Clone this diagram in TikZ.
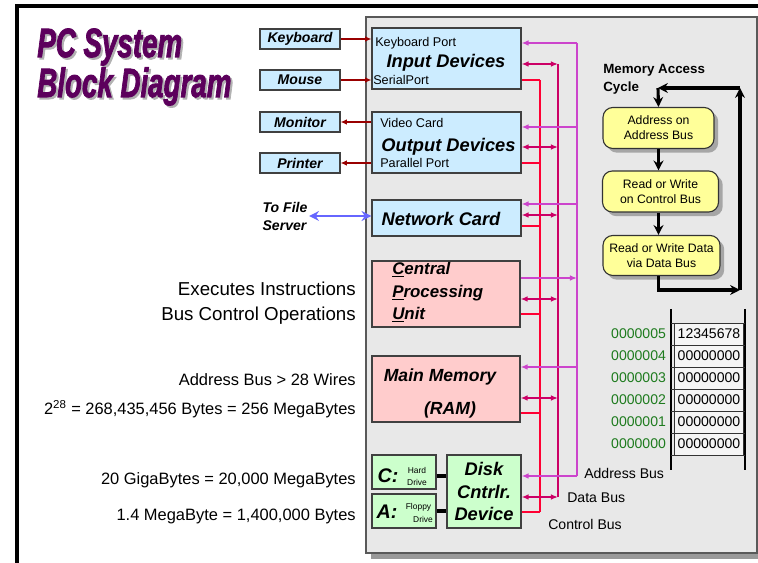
\documentclass[tikz,border=0pt]{standalone}
\usepackage{graphicx}
\usepackage{fontspec}
\setmainfont{Liberation Sans}
\newfontfamily\titlefont[FakeBold=2.5]{Liberation Sans}
\usetikzlibrary{arrows.meta,positioning,shadows}

\definecolor{devblue}{HTML}{CCECFF}
\definecolor{cpupink}{HTML}{FFCCCC}
\definecolor{diskgreen}{HTML}{CCFFCC}
\definecolor{cycyellow}{HTML}{FFFF99}
\definecolor{ctlred}{HTML}{FF0033}
\definecolor{datared}{HTML}{CC0066}
\definecolor{addrpink}{HTML}{CC44CC}
\definecolor{portred}{HTML}{990000}
\definecolor{netblue}{HTML}{6666FF}
\definecolor{titlepurple}{HTML}{5C005C}
\definecolor{addrgreen}{HTML}{1E7B1E}
\definecolor{panelgray}{HTML}{E8E8E8}

\begin{document}
\begin{tikzpicture}[x=0.025cm, y=-0.025cm,
  box/.style 2 args={draw=black!75, line width=0.8pt, inner sep=0pt,
    minimum width=#1*0.025cm, minimum height=#2*0.025cm},
  txt/.style={inner sep=0pt, font=\fontsize{#1}{#1}\selectfont},
  txt/.default=9,
  bi/.style={inner sep=0pt, font=\fontsize{#1}{#1}\selectfont\bfseries\itshape},
  bi/.default=13,
  title/.style={inner sep=0pt, anchor=base west,
    font=\titlefont\fontsize{29}{29}\selectfont\bfseries\itshape},
  devbox/.style={box={80}{20}, fill=devblue, bi=10},
  devlink/.style={portred, line width=1.1pt, -{Latex[length=4.5pt,width=4pt]}},
  ctlbus/.style={ctlred, line width=1.3pt},
  databus/.style={datared, line width=1.3pt},
  addrbus/.style={addrpink, line width=1.3pt},
  tip/.style={-{Latex[length=5pt,width=4pt]}},
  tips/.style={{Latex[length=5pt,width=4pt]}-{Latex[length=5pt,width=4pt]}},
  cycbox/.style={draw=black!80, line width=0.8pt, fill=cycyellow,
    rounded corners=7pt, align=center, inner sep=0pt,
    font=\fontsize{8.7}{10.7}\selectfont,
    drop shadow={shadow xshift=3pt, shadow yshift=-3pt, fill=black!35, opacity=1}},
  cycarrow/.style={line width=2.2pt, -{Stealth[length=7pt,width=7pt]}},
  cell/.style={draw=black!80, fill=black!4, inner sep=0pt,
    minimum width=69*0.025cm, minimum height=22*0.025cm,
    font=\fontsize{10}{10}\selectfont},
  addr/.style={text=addrgreen, inner sep=0pt, font=\fontsize{10}{10}\selectfont},
  drive/.style={inner sep=0pt, font=\fontsize{6}{6}\selectfont},
  note/.style={inner sep=0pt, anchor=east, font=\fontsize{#1}{#1}\selectfont},
  note/.default=11.7]

\useasboundingbox (0,0) rectangle (758,563);

% frame and grey panel
\draw[line width=2.2pt] (17,563) -- (17,6) -- (758,6);
\fill[black!40] (371,22) rectangle (762,559);
\filldraw[fill=panelgray, draw=black!65, line width=0.9pt] (366,17) rectangle (757,553);

% title
\node[title, text=black!30] at (39,59) {\scalebox{0.68}[1]{PC System}};
\node[title, text=titlepurple] at (37,57) {\scalebox{0.68}[1]{PC System}};
\node[title, text=black!30] at (39,99) {\scalebox{0.68}[1]{Block Diagram}};
\node[title, text=titlepurple] at (37,97) {\scalebox{0.68}[1]{Block Diagram}};

% peripherals
\node[devbox] (kbd) at (300,39) {Keyboard};
\node[devbox] (mouse) at (300,80) {Mouse};
\node[devbox] (mon) at (300,122) {Monitor};
\node[devbox] (prn) at (300,163) {Printer};

% units on the bus
\node[box={149}{61}, fill=devblue] (inp) at (446.5,58.5) {};
\node[bi] at (446,63) {Input Devices};
\node[txt, anchor=west] at (375,43) {Keyboard Port};
\node[txt, anchor=west] at (373,80) {SerialPort};

\node[box={149}{61}, fill=devblue] (outp) at (446.5,142.5) {};
\node[bi] at (448.5,147) {Output Devices};
\node[txt, anchor=west] at (380,123) {Video Card};
\node[txt, anchor=west] at (380,163) {Parallel Port};

\node[box={149}{36}, fill=devblue] (net) at (446.5,218) {};
\node[bi] at (441,219) {Network Card};

\node[box={148}{66}, fill=cpupink] (cpu) at (446,294) {};
\node[bi=12, anchor=west] at (392,270) {\underline{C}entral};
\node[bi=12, anchor=west] at (392,293) {\underline{P}rocessing};
\node[bi=12, anchor=west] at (392,315) {\underline{U}nit};

\node[box={148}{66}, fill=cpupink] (ram) at (446,389) {};
\node[bi=12.5] at (440,377) {Main Memory};
\node[bi=12.5] at (450,410) {(RAM)};

\node[box={64}{34}, fill=diskgreen] (hdd) at (404,472) {};
\node[bi=14] at (388,476) {C:};
\node[drive] at (417,470) {Hard};
\node[drive] at (417,482) {Drive};
\node[box={64}{34}, fill=diskgreen] (fdd) at (404,511) {};
\node[bi=14] at (387,512) {A:};
\node[drive] at (418.5,507) {Floppy};
\node[drive] at (423,519) {Drive};
\node[box={74}{73}, fill=diskgreen, align=center,
  font=\fontsize{13}{16}\selectfont\bfseries\itshape] (dsk) at (484,491.5) {Disk\\Cntrlr.\\Device};

\draw[line width=3pt] ([yshift=-3pt]hdd.east) -- ([yshift=-3pt]hdd.east -| dsk.west);
\draw[line width=3pt] (fdd.east) -- (fdd.east -| dsk.west);

% port connections
\draw[devlink] (kbd.east) -- (kbd.east -| inp.west);
\draw[devlink] (mouse.east) -- (mouse.east -| inp.west);
\draw[devlink] (mon.east -| outp.west) -- (mon.east);
\draw[devlink] (prn.east -| outp.west) -- (prn.east);

\node[align=left, font=\fontsize{10}{12.8}\selectfont\bfseries\itshape, inner sep=0pt]
  (fs) at (285,216) {To File\\Server};
\draw[netblue, line width=2pt, {Stealth[length=7pt,width=7pt]}-{Stealth[length=7pt,width=7pt]}]
  ([xshift=1pt]fs.east) -- (fs.east -| net.west);

% control bus
\foreach \b/\y in {inp/80, outp/163, net/226, cpu/314, ram/413, dsk/512}
  \coordinate (c-\b) at (540,\y);
\draw[ctlbus] (c-inp) -- (c-dsk);
\foreach \b in {inp, outp, net, cpu, ram, dsk}
  \draw[ctlbus] (\b.east |- c-\b) -- (c-\b);

% data bus
\foreach \b/\y in {inp/64, outp/147, net/215, cpu/299, ram/398, dsk/497}
  \coordinate (d-\b) at (558,\y);
\draw[databus] (d-inp) -- (d-dsk);
\foreach \b in {inp, outp, net, cpu, ram, dsk}
  \draw[databus, tips] (\b.east |- d-\b) -- (d-\b);

% address bus
\foreach \b/\y in {inp/43, outp/127, net/204, cpu/278, ram/367, dsk/476}
  \coordinate (a-\b) at (577,\y);
\draw[addrbus] (a-inp) -- (a-dsk);
\foreach \b in {inp, outp, net, ram, dsk}
  \draw[addrbus, tip] (a-\b) -- (\b.east |- a-\b);
\draw[addrbus, tip] (cpu.east |- a-cpu) -- (a-cpu);

\node[txt=10, anchor=west] at (584,473) {Address Bus};
\node[txt=10, anchor=west] at (567,498) {Data Bus};
\node[txt=10, anchor=west] at (548,524) {Control Bus};

% memory access cycle
\node[inner sep=0pt, anchor=west, align=left, font=\fontsize{9.5}{12.8}\selectfont\bfseries]
  at (603,79) {Memory Access\\Cycle};
\node[cycbox, minimum width=111*0.025cm, minimum height=41*0.025cm] (adr) at (658.5,128) {Address on\\Address Bus};
\node[cycbox, minimum width=116*0.025cm, minimum height=41*0.025cm] (ctl) at (660.5,191.5) {Read or Write\\on Control Bus};
\node[cycbox, minimum width=117*0.025cm, minimum height=40*0.025cm] (dat) at (661.5,255.5) {Read or Write Data\\via Data Bus};

\coordinate (lp-br) at (740,290);
\coordinate (lp-tr) at (740,88);
\coordinate (lp-tl) at (658,88);
\draw[cycarrow] (adr.south) -- (adr.south |- ctl.north);
\draw[cycarrow] (adr.south |- ctl.south) -- (adr.south |- dat.north);
\draw[cycarrow] (adr.south |- dat.south) |- (lp-br);
\draw[cycarrow] (lp-br) -- (lp-tr);
\draw[cycarrow] (lp-tr) -- (lp-tl);
\draw[cycarrow] (lp-tl) -- (adr.north);

% memory cells
\draw[line width=1pt] (671,309) -- (671,470);
\draw[line width=1pt] (745,309) -- (745,470);
\foreach \i in {0,...,6}
  \draw[black!80] (671,323+22*\i) -- (745,323+22*\i);
\foreach \v [count=\i from 0] in {12345678,00000000,00000000,00000000,00000000,00000000} {
  \pgfmathtruncatemacro\n{5-\i}
  \node[cell] (m\i) at (709,334+22*\i) {\v};
  \node[addr, left=0.2cm of m\i] {000000\n};
}

% notes on the left
\node[note=13.3] at (356,289) {Executes Instructions};
\node[note=13.3] at (356,316) {Bus Control Operations};
\node[note] at (356,380) {Address Bus > 28 Wires};
\node[note] at (356,409) {2\textsuperscript{28} = 268,435,456 Bytes = 256 MegaBytes};
\node[note] at (356,480) {20 GigaBytes = 20,000 MegaBytes};
\node[note] at (356,516) {1.4 MegaByte = 1,400,000 Bytes};
\end{tikzpicture}
\end{document}
